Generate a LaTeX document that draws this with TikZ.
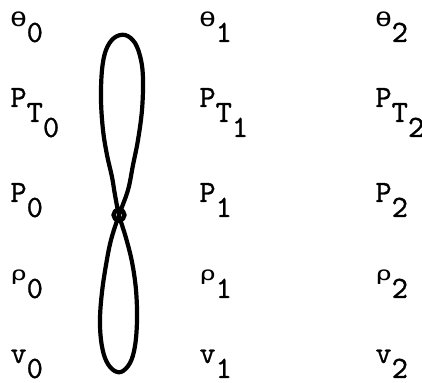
\documentclass[tikz,border=0pt]{standalone}
\usepackage{fontspec}
\usepackage{graphicx}
\usepackage{tikz}
\setmonofont{lmmono10-regular.otf}[FakeBold=0.8]
\newfontfamily\gkfont{DejaVu Sans Mono}
% a typewriter subscript: same size, half a line lower
\newcommand{\dn}[1]{\raisebox{-7.5pt}{#1}}
% greek letter in one typewriter cell
\newcommand{\gk}[2]{\makebox[8.15pt][c]{\fontsize{#2}{#2}\selectfont\gkfont\scalebox{1.45}[1]{#1}}}
\tikzset{
  lbl/.style={anchor=base west, inner sep=0pt, font=\fontsize{15.5}{18}\selectfont\ttfamily},
  loopline/.style={line width=2.1pt, line join=round}
}

\begin{document}
\begin{tikzpicture}[x=0.5pt, y=-0.5pt]
  \useasboundingbox (0,0) rectangle (422,383);

  % the three columns of state quantities
  \foreach \c/\x in {0/10, 1/199, 2/375} {
    \node[lbl] (th\c) at (\x,27) {\gk{θ}{10}\dn{\c}};
    \node[lbl] (pt\c) at (\x,107) {P\dn{T\dn{\c}}};
    \node[lbl] (p\c) at (\x,202) {P\dn{\c}};
    \node[lbl] (rho\c) at (\x,283) {\raisebox{1pt}{\gk{ρ}{9.5}}\dn{\c}};
    \node[lbl] (v\c) at (\x,363) {v\dn{\c}};
  }

  % figure-eight loop
  \draw[loopline] plot[smooth cycle, tension=0.6] coordinates {
    (119,215) (126,238) (132,262) (136,290) (137,320) (135,346) (130,363)
    (121,372) (112,369) (105,358) (101,340) (100,318) (102,292) (106,265)
    (111,240) (119,215) (128,190) (133,165) (138,140) (142,110) (143,80)
    (141,60) (135,43) (125,35) (114,38) (106,50) (102,70) (101,100)
    (103,130) (107,155) (112,177) (115,195)};
  \draw[loopline] (119,215) circle[radius=2.8pt];
\end{tikzpicture}
\end{document}
